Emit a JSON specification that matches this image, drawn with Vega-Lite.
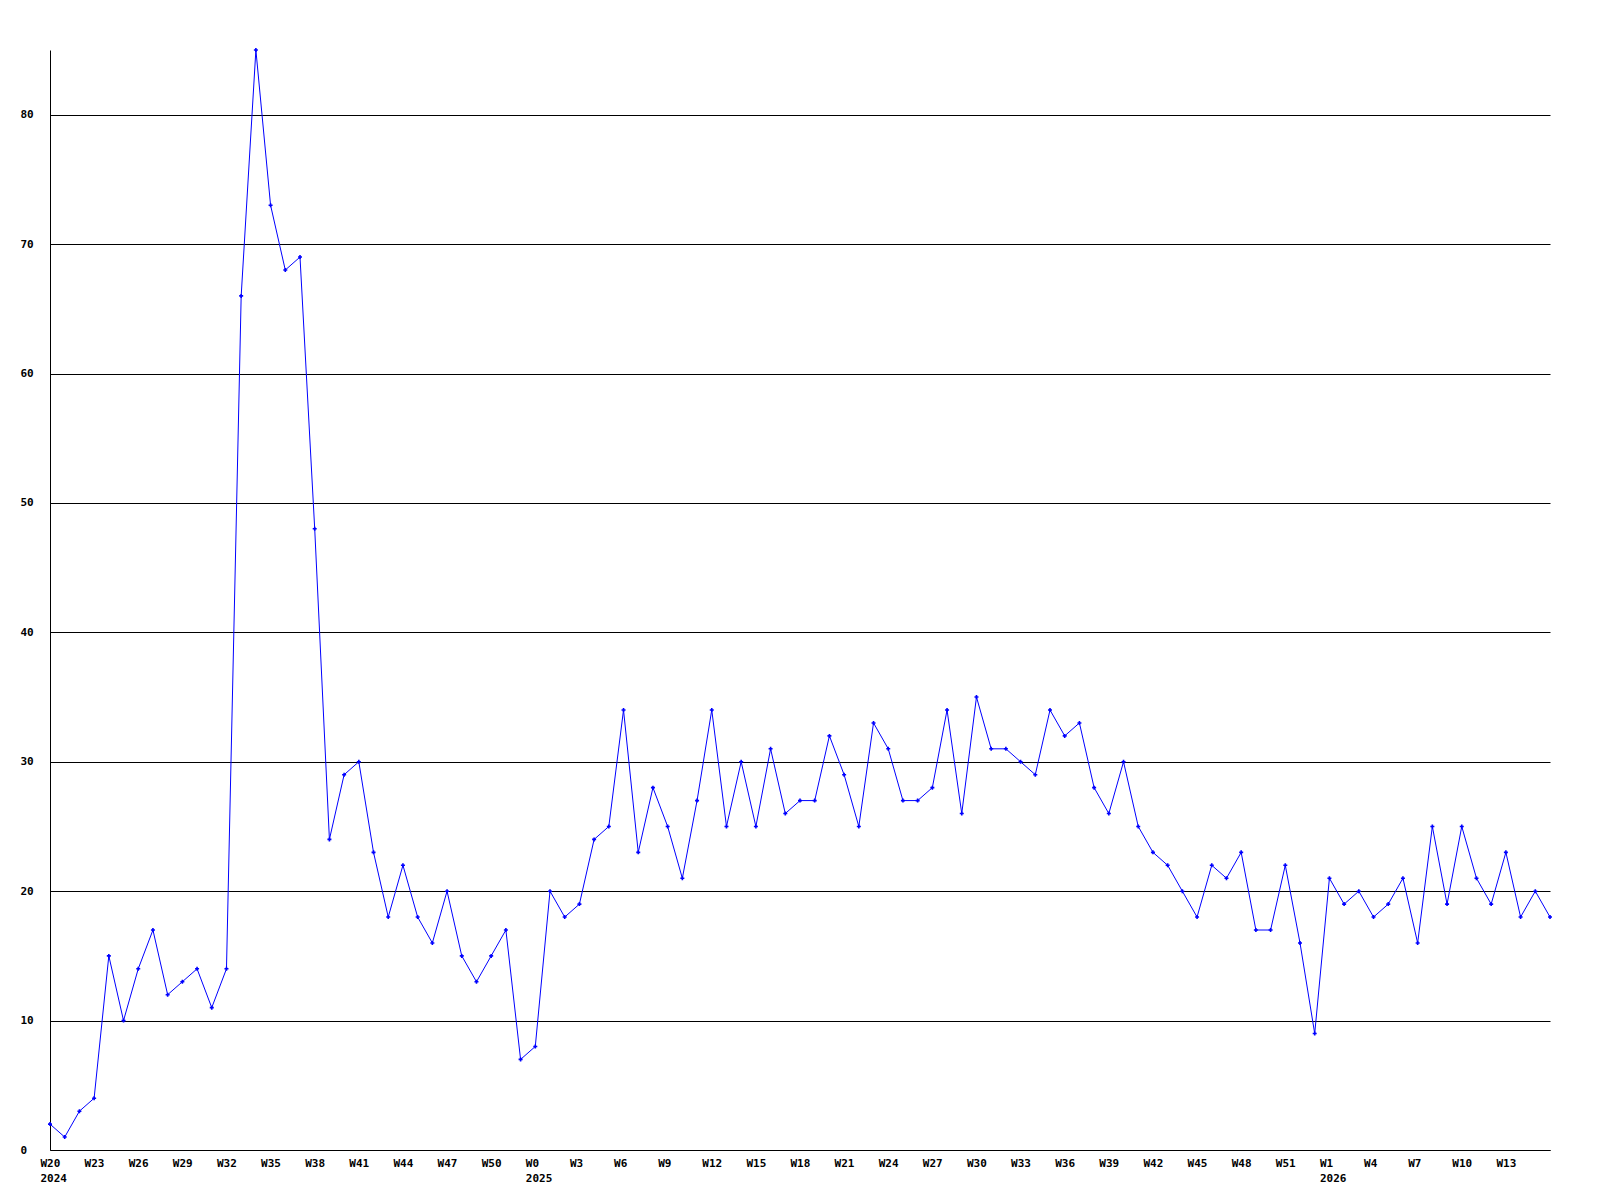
{
  "$schema": "https://vega.github.io/schema/vega-lite/v6.json",
  "autosize": "none",
  "width": 1500,
  "height": 1100,
  "padding": {"left": 50, "top": 50, "right": 50, "bottom": 50},
  "background": "white",
  "config": {"view": {"stroke": null}},
  "data": {"values": [
    {"i":0,"v":2},{"i":1,"v":1},{"i":2,"v":3},{"i":3,"v":4},{"i":4,"v":15},{"i":5,"v":10},{"i":6,"v":14},{"i":7,"v":17},{"i":8,"v":12},{"i":9,"v":13},
    {"i":10,"v":14},{"i":11,"v":11},{"i":12,"v":14},{"i":13,"v":66},{"i":14,"v":85},{"i":15,"v":73},{"i":16,"v":68},{"i":17,"v":69},{"i":18,"v":48},{"i":19,"v":24},
    {"i":20,"v":29},{"i":21,"v":30},{"i":22,"v":23},{"i":23,"v":18},{"i":24,"v":22},{"i":25,"v":18},{"i":26,"v":16},{"i":27,"v":20},{"i":28,"v":15},{"i":29,"v":13},
    {"i":30,"v":15},{"i":31,"v":17},{"i":32,"v":7},{"i":33,"v":8},{"i":34,"v":20},{"i":35,"v":18},{"i":36,"v":19},{"i":37,"v":24},{"i":38,"v":25},{"i":39,"v":34},
    {"i":40,"v":23},{"i":41,"v":28},{"i":42,"v":25},{"i":43,"v":21},{"i":44,"v":27},{"i":45,"v":34},{"i":46,"v":25},{"i":47,"v":30},{"i":48,"v":25},{"i":49,"v":31},
    {"i":50,"v":26},{"i":51,"v":27},{"i":52,"v":27},{"i":53,"v":32},{"i":54,"v":29},{"i":55,"v":25},{"i":56,"v":33},{"i":57,"v":31},{"i":58,"v":27},{"i":59,"v":27},
    {"i":60,"v":28},{"i":61,"v":34},{"i":62,"v":26},{"i":63,"v":35},{"i":64,"v":31},{"i":65,"v":31},{"i":66,"v":30},{"i":67,"v":29},{"i":68,"v":34},{"i":69,"v":32},
    {"i":70,"v":33},{"i":71,"v":28},{"i":72,"v":26},{"i":73,"v":30},{"i":74,"v":25},{"i":75,"v":23},{"i":76,"v":22},{"i":77,"v":20},{"i":78,"v":18},{"i":79,"v":22},
    {"i":80,"v":21},{"i":81,"v":23},{"i":82,"v":17},{"i":83,"v":17},{"i":84,"v":22},{"i":85,"v":16},{"i":86,"v":9},{"i":87,"v":21},{"i":88,"v":19},{"i":89,"v":20},
    {"i":90,"v":18},{"i":91,"v":19},{"i":92,"v":21},{"i":93,"v":16},{"i":94,"v":25},{"i":95,"v":19},{"i":96,"v":25},{"i":97,"v":21},{"i":98,"v":19},{"i":99,"v":23},
    {"i":100,"v":18},{"i":101,"v":20},{"i":102,"v":18}
  ]},
  "encoding": {
    "x": {
      "field": "i", "type": "quantitative",
      "scale": {"domain": [0, 102], "nice": false, "zero": false},
      "axis": {
        "title": null,
        "grid": false,
        "ticks": false,
        "tickSize": 0,
        "domainColor": "black",
        "domainWidth": 1,
        "values": [0,3,6,9,12,15,18,21,24,27,30,33,36,39,42,45,48,51,54,57,60,63,66,69,72,75,78,81,84,87,90,93,96,99],
        "labelExpr": "datum.value == 0 ? ['W20', '2024'] : datum.value == 33 ? ['W0', '2025'] : datum.value == 87 ? ['W1', '2026'] : 'W' + (datum.value < 33 ? datum.value + 20 : datum.value < 86 ? datum.value - 33 : datum.value - 86)",
        "labelFont": "DejaVu Sans Mono",
        "labelFontWeight": "bold",
        "labelFontSize": 11,
        "labelColor": "black",
        "labelPadding": 7,
        "labelLineHeight": 15,
        "labelOverlap": false,
        "labelFlush": false,
        "labelAlign": "left",
        "labelOffset": -10
      }
    },
    "y": {
      "field": "v", "type": "quantitative",
      "scale": {"domain": [0, 85], "nice": false},
      "axis": {
        "title": null,
        "values": [0,10,20,30,40,50,60,70,80],
        "grid": true,
        "gridColor": "black",
        "gridOpacity": 1,
        "gridWidth": 1,
        "ticks": false,
        "tickSize": 0,
        "domainColor": "black",
        "labelFont": "DejaVu Sans Mono",
        "labelFontWeight": "bold",
        "labelFontSize": 11,
        "labelColor": "black",
        "labelAlign": "left",
        "labelPadding": 30,
        "labelBaseline": "middle"
      }
    }
  },
  "layer": [
    {"mark": {"type": "line", "color": "#0000ff", "strokeWidth": 1}},
    {"mark": {"type": "point", "shape": "cross", "filled": true, "color": "#0000ff", "size": 16, "opacity": 1}}
  ]
}
